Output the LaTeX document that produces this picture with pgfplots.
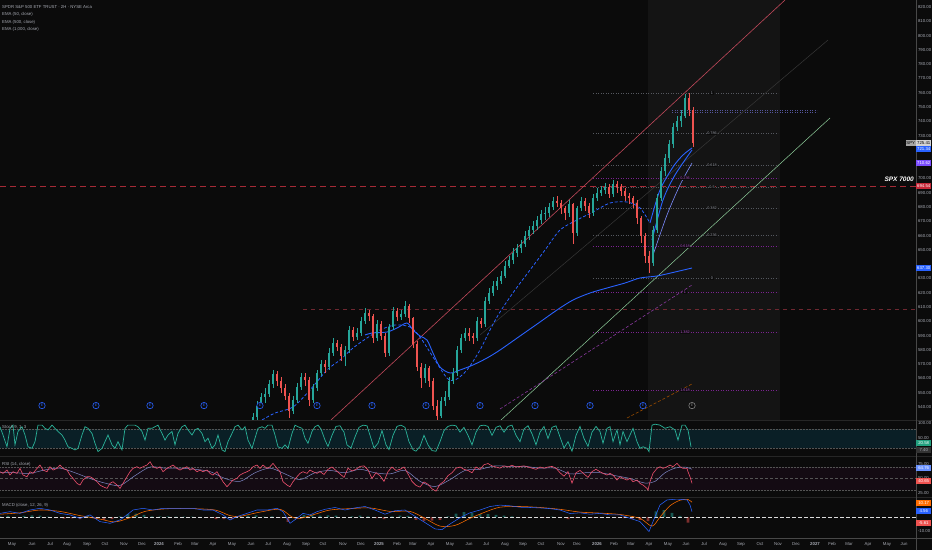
\documentclass[border=0pt]{standalone}
\usepackage{pgfplots}
\pgfplotsset{compat=1.18}
\usepackage{pgfplotstable}
\usepackage{fontspec}
\setmainfont{Liberation Sans}
\definecolor{bg}{HTML}{0B0B0B}
\definecolor{hl}{HTML}{141414}
\definecolor{up}{HTML}{26A69A}
\definecolor{dn}{HTML}{EF5350}
\definecolor{ema}{HTML}{2962FF}
\definecolor{emal}{HTML}{7C8CFF}
\definecolor{txt}{HTML}{A8ABB4}
\definecolor{sep}{HTML}{262626}
\definecolor{chred}{HTML}{C0485A}
\definecolor{chgreen}{HTML}{8FCE9B}
\definecolor{fibgray}{HTML}{55585F}
\definecolor{fibtxt}{HTML}{9A9DA6}
\definecolor{fibmag}{HTML}{7A2290}
\definecolor{fibmagt}{HTML}{B050C8}
\definecolor{spx}{HTML}{A52A36}
\definecolor{ath}{HTML}{6E2730}
\definecolor{lav}{HTML}{55559A}
\definecolor{stoch}{HTML}{2BB39A}
\definecolor{stband}{HTML}{0A1F26}
\definecolor{rsi}{HTML}{F0506E}
\definecolor{rsima}{HTML}{7F88C8}
\definecolor{rsiband}{HTML}{140B13}
\definecolor{macdo}{HTML}{FF6D00}
\definecolor{purp}{HTML}{7B4DFF}
\definecolor{redbox}{HTML}{C62838}
\definecolor{grbox}{HTML}{22A07F}
\newcommand\tfs{\fontsize{4.3}{5}\selectfont}
\newcommand\ffs{\fontsize{3.8}{4}\selectfont}

\pgfplotstableread{
x o h l c
253 530 536 527 533
257 533 544 531 541
261 541 550 539 547
265 547 553 543 549
269 549 559 547 556
273 556 566 553 563
293 537 548 535 545
297 545 557 543 554
301 554 564 552 561
313 545 556 543 553
317 553 566 551 564
321 564 573 562 570
329 568 581 566 578
333 578 588 576 585
345 576 583 569 580
349 580 597 578 594
357 589 595 587 592
361 592 603 590 600
365 600 609 598 606
377 588 601 586 598
389 578 598 576 596
393 596 610 594 607
401 603 608 601 605
405 605 614 603 611
425 560 570 557 567
441 534 547 532 544
445 544 551 541 547
449 547 561 545 558
453 558 567 556 564
457 564 583 562 580
461 580 591 578 588
465 588 595 586 592
477 588 603 586 600
485 598 617 596 614
489 614 623 612 620
493 620 628 618 625
497 625 631 622 628
501 628 635 626 632
505 632 642 630 639
509 639 646 637 643
513 643 651 640 648
517 648 654 645 651
521 651 657 648 654
525 654 663 652 660
529 660 667 657 664
533 664 670 661 667
537 667 674 664 671
541 671 678 668 675
545 675 680 671 676
549 676 683 673 680
553 680 687 678 684
569 676 685 673 682
577 662 681 660 679
581 679 687 677 684
593 676 689 674 686
597 686 693 684 690
601 690 695 688 692
605 692 697 689 694
613 689 699 687 696
653 641 667 639 664
657 664 689 662 686
661 686 708 684 705
665 705 717 702 714
669 714 727 711 724
673 724 739 721 736
677 736 744 733 740
681 740 748 736 744
685 744 759 742 756
}\upT

\pgfplotstableread{
x o h l c
277 563 565 555 558
281 558 561 550 553
285 553 556 545 548
289 548 550 532 537
305 561 564 555 559
309 559 561 541 545
325 570 573 564 568
337 585 587 579 582
341 582 584 572 576
353 594 596 586 589
369 606 608 600 604
373 604 605 585 588
381 598 600 587 590
385 590 592 575 578
397 607 609 600 603
409 611 612 599 602
413 602 603 581 584
417 584 586 565 568
421 568 571 553 560
429 567 569 554 558
433 558 560 538 541
437 541 545 527 534
469 592 595 586 590
473 590 592 584 588
481 600 602 595 598
557 684 688 680 683
561 683 685 675 679
565 679 681 671 676
573 682 683 654 662
585 684 686 677 681
589 681 683 672 676
609 694 696 686 689
617 696 698 690 694
621 694 696 688 691
625 691 693 684 688
629 688 690 682 686
633 686 688 679 683
637 683 685 668 672
641 672 674 655 660
645 660 662 641 646
649 646 649 634 641
689 756 760 744 748
693 748 750 722 725
}\dnT

\pgfplotstableread{
x v
0 87
3 61
7 24
10 82
13 92
15 30
18 72
22 87
25 61
28 24
32 19
35 40
38 92
42 92
45 82
48 77
52 92
55 82
58 72
62 61
65 45
68 24
72 19
75 14
78 19
82 61
85 87
88 82
92 66
95 35
98 9
102 19
105 40
108 61
112 30
115 19
118 40
122 14
125 82
128 92
132 92
135 92
138 87
142 72
145 45
148 82
152 82
155 87
158 92
162 66
165 45
168 61
172 72
175 30
178 66
182 87
185 92
188 77
192 61
195 77
198 82
202 66
205 40
208 51
212 19
215 30
218 61
222 14
225 9
228 40
232 66
235 87
238 92
242 77
245 87
248 45
252 19
255 51
258 82
262 87
265 82
268 92
272 92
275 61
278 24
282 19
285 30
288 19
292 66
295 92
298 87
302 82
305 51
308 35
312 72
315 87
318 92
321 80
325 45
328 25
332 60
336 88
340 90
344 70
347 30
351 20
355 55
359 85
363 92
367 90
371 50
374 20
378 35
382 75
386 30
389 15
393 60
397 88
401 92
405 85
409 40
413 15
416 10
420 25
424 60
428 30
432 12
436 10
440 40
444 75
448 88
452 92
456 90
460 70
464 85
468 60
472 30
476 70
480 90
484 92
488 88
492 60
496 85
500 90
504 70
508 88
512 92
516 60
520 40
524 80
528 90
532 65
536 30
540 70
544 88
548 50
552 85
556 90
560 55
564 20
568 40
572 10
576 60
580 88
584 50
588 25
592 70
596 88
600 72
603 35
607 82
610 87
613 40
617 77
620 30
623 72
627 40
630 61
633 82
637 40
640 19
643 24
647 19
649 9
652 92
655 95
660 92
665 82
670 87
675 77
678 45
682 92
685 92
688 77
691 24
}\stochT

\pgfplotstableread{
x v
0 61.8
3 58.9
7 64.7
10 56
13 61.8
17 58.9
20 67.6
23 56
27 53.1
30 61.8
33 58.9
37 67.6
40 73.4
43 64.7
47 61.8
50 70.5
53 64.7
57 67.6
60 73.4
63 67.6
67 64.7
70 56
73 50.2
77 41.5
80 38.6
83 47.3
87 53.1
90 53.1
93 50.2
97 44.4
100 38.6
103 35.7
107 32.8
110 41.5
113 44.4
117 38.6
120 32.8
123 41.5
127 53.1
130 61.8
133 67.6
137 70.5
140 67.6
143 70.5
147 73.4
150 79.2
153 70.5
157 67.6
160 70.5
163 61.8
167 67.6
170 70.5
173 73.4
177 67.6
180 64.7
183 67.6
187 70.5
190 64.7
193 67.6
197 61.8
200 64.7
203 61.8
207 64.7
210 58.9
213 56
217 61.8
220 53.1
223 44.4
227 35.7
230 41.5
233 47.3
237 50.2
240 56
243 58.9
247 61.8
250 64.7
253 70.5
257 73.4
260 67.6
263 73.4
267 67.6
270 70.5
273 76.3
277 67.6
280 61.8
283 44.4
287 38.6
290 35.7
293 44.4
297 53.1
300 58.9
303 61.8
307 58.9
310 64.7
313 61.8
317 58.9
320 62
324 57
328 66
332 70
336 64
340 58
344 52
348 68
352 63
356 66
360 71
364 72
368 65
372 50
376 60
380 55
384 45
388 62
392 70
396 64
400 66
404 70
408 58
412 45
416 38
420 35
424 44
428 40
432 32
436 28
440 40
444 45
448 55
452 60
456 68
460 70
464 66
468 64
472 60
476 70
480 66
484 74
488 76
492 72
496 70
500 68
504 72
508 70
512 73
516 70
520 71
524 72
528 70
532 68
536 66
540 70
544 68
548 70
552 71
556 68
560 60
564 54
568 62
572 42
576 60
580 64
584 58
588 52
592 62
596 66
600 61.8
603 58.9
607 56
610 58.9
613 56
617 47.3
620 53.1
623 50.2
627 47.3
630 50.2
633 44.4
637 47.3
640 41.5
643 38.6
647 32.8
648 29.9
650 44.4
653 58.9
657 67.6
660 70.5
663 67.6
667 70.5
670 73.4
673 70.5
677 76.3
680 70.5
683 67.6
687 67.6
688 61.8
690 53.1
692 41.5
}\rsiT

\pgfplotstableread{
x v
0 60
15 60
30 59
45 65
60 68
75 60
90 50
105 42
120 38
135 55
150 70
165 68
180 68
195 66
210 62
225 50
240 45
255 60
270 68
285 58
300 48
315 60
330 64
345 60
360 66
375 60
390 58
405 64
420 45
435 36
450 48
465 64
480 66
495 72
510 71
525 71
540 68
555 68
570 58
585 60
600 60
615 55
630 50
645 42
655 45
665 60
675 68
685 70
692 66
}\rsimaT

\pgfplotstableread{
x v
0 2.6
10 3.8
20 2.6
30 5.0
40 6.2
50 5.0
60 2.6
70 1.5
80 -0.9
90 1.5
100 -3.3
110 -4.5
120 -2.1
127 1.5
133 5.0
143 6.2
153 5.0
163 6.2
173 6.2
183 6.2
193 6.2
203 5.0
213 5.0
223 1.5
230 -2.1
237 0.3
247 2.6
257 5.0
267 5.0
277 6.2
283 3.8
290 -4.5
297 -0.9
303 2.6
310 1.5
317 3.8
325 5.5
335 6.8
345 5.0
355 6.5
365 7.5
375 5.0
385 2.0
395 4.5
405 5.0
415 0.5
425 -4.0
435 -8.5
442 -9.0
450 -5.0
460 -0.5
470 3.0
480 5.0
490 7.5
500 8.5
510 8.0
520 7.0
530 6.8
540 6.5
550 6.0
560 5.0
570 2.5
580 3.0
590 2.0
600 2.6
610 1.5
620 1.5
630 -0.9
640 -3.3
649 -10.4
653 -3.3
660 8.6
667 12.2
677 12.8
687 12.2
690 8.6
692 3.8
}\macdT

\pgfplotstableread{
x v
0 2.0
20 3.0
40 5.0
60 4.0
80 1.0
100 -1.5
115 -3.5
130 -0.5
145 4.0
165 5.8
190 6.0
215 5.0
230 1.0
240 0.5
260 3.5
280 5.5
292 0.0
300 -1.0
315 2.0
330 5.0
350 6.0
370 6.5
390 4.0
410 4.0
425 -1.0
440 -6.5
455 -6.0
470 -1.0
485 3.5
500 7.0
520 7.5
540 6.8
560 5.5
580 3.5
600 2.8
620 1.8
640 -1.0
652 -6.5
660 0.0
670 8.0
680 12.0
688 12.5
692 10.5
}\sigT

\pgfplotstableread{
x v
0 0.5
8 0.8
16 -0.3
24 0.8
32 1.2
40 1.0
48 0.2
56 -0.8
64 -1.2
72 -0.9
80 -1.5
88 0.8
96 -1.0
104 -2.0
112 -1.5
120 0.5
128 2.0
136 2.5
144 1.5
152 0.5
160 0.5
168 0.4
176 0.3
184 0.2
192 0.2
200 0.1
208 -0.3
216 -1.5
224 -1.5
232 -1.5
240 0.5
248 1.0
256 1.2
264 0.3
272 0.5
280 -0.5
288 -3.5
296 -0.5
304 1.5
312 1.5
320 1.0
328 1.2
336 1.0
344 -0.5
352 0.5
360 1.0
368 0.5
376 -0.8
384 -1.5
392 0.5
400 1.0
408 0.8
416 -2.0
424 -3.0
432 -2.5
440 -2.0
448 0.5
456 2.5
464 3.5
472 3.0
480 2.0
488 2.0
496 1.5
504 1.0
512 0.5
520 -0.3
528 -0.3
536 -0.3
544 -0.3
552 0.3
560 -0.5
568 -1.5
576 -0.5
584 -0.3
592 -0.5
600 -0.2
608 -0.3
616 -0.2
624 -0.8
632 -1.5
640 -2.0
648 -3.0
656 4.0
664 5.0
672 3.0
680 0.8
688 -4.0
}\histT

\pgfplotsset{
  tv/.style={scale only axis, xmin=0, xmax=916, anchor=south west, width=916pt,
    axis line style={draw=none}, major tick style={draw=none}, minor tick num=0,
    xtick=\empty, yticklabel pos=right, scaled y ticks=false,
    ticklabel style={font=\tfs, text=txt},
    y tick label style={anchor=west, xshift=-1.5pt,
      /pgf/number format/fixed, /pgf/number format/fixed zerofill,
      /pgf/number format/precision=2, /pgf/number format/assume math mode=true}},
  candle/.style={draw=none, mark=none, error bars/.cd, y dir=both, y explicit,
    error mark=none, error bar style={draw=#1, line width=0.55pt}},
  body/.style={draw=none, mark=none, error bars/.cd, y dir=both, y explicit,
    error mark=none, error bar style={draw=#1, line width=2.1pt}}
}
\tikzset{box/.style={anchor=west, inner sep=0.8pt, minimum width=15pt, minimum height=6pt, font=\tfs, text=white}}

\begin{document}
\begin{tikzpicture}[x=1pt,y=1pt]
\useasboundingbox (0,0) rectangle (932,550);
\fill[bg] (0,0) rectangle (932,550);

% ---------- main price pane ----------
\begin{axis}[tv, at={(0pt,130pt)}, height=420pt, ymin=530.9, ymax=824.9,
  ytick={540,550,560,570,580,590,600,610,620,630,650,660,670,680,690,700,730,740,750,760,770,780,790,800,810,820}]
\fill[hl] (axis cs:648,530.9) rectangle (axis cs:780,824.9);
% horizontal levels
\addplot[spx, line width=0.6pt, dash pattern=on 6pt off 4pt] coordinates {(0,694.54) (916,694.54)};
\addplot[ath, line width=0.6pt, dash pattern=on 4pt off 4pt] coordinates {(303,608.6) (916,608.6)};
% fib (gray)
\addplot[fibgray, dotted, line width=0.5pt] coordinates {(593,759.8) (778,759.8)};
\addplot[fibgray, dotted, line width=0.5pt] coordinates {(593,731.8) (778,731.8)};
\addplot[fibgray, dotted, line width=0.5pt] coordinates {(593,709.4) (778,709.4)};
\addplot[fibgray, dotted, line width=0.5pt] coordinates {(593,694.0) (778,694.0)};
\addplot[fibgray, dotted, line width=0.5pt] coordinates {(593,679.3) (778,679.3)};
\addplot[fibgray, dotted, line width=0.5pt] coordinates {(593,660.4) (778,660.4)};
\addplot[fibgray, dotted, line width=0.5pt] coordinates {(593,630.3) (778,630.3)};
% fib (magenta)
\addplot[fibmag, dotted, line width=0.5pt] coordinates {(593,700.3) (778,700.3)};
\addplot[fibmag, dotted, line width=0.5pt] coordinates {(593,652.7) (778,652.7)};
\addplot[fibmag, dotted, line width=0.5pt] coordinates {(593,620.5) (778,620.5)};
\addplot[fibmag, dotted, line width=0.5pt] coordinates {(593,592.5) (778,592.5)};
\addplot[fibmag, dotted, line width=0.5pt] coordinates {(593,551.9) (778,551.9)};
% lavender rays
\addplot[lav, dotted, line width=0.5pt] coordinates {(672,747.9) (817,747.9)};
\addplot[lav, dotted, line width=0.5pt] coordinates {(672,746.3) (817,746.3)};
% channel and trend lines
\addplot[color=white!18!bg, line width=0.5pt] coordinates {(480,590.4) (828,796.9)};
\addplot[chred, line width=0.6pt] coordinates {(331,530.9) (785,824.9)};
\addplot[chgreen, line width=0.5pt] coordinates {(501,530.9) (830,742.3)};
\addplot[color=fibmag!90!white, line width=0.6pt, dash pattern=on 3pt off 2pt] coordinates {(500,538.6) (692,625.4)};
\addplot[color=orange!60!black, line width=0.6pt, dash pattern=on 3pt off 2pt] coordinates {(627,532.3) (692,556.1)};
% EMAs
\addplot[ema, line width=0.8pt, dash pattern=on 3pt off 2pt, smooth] coordinates {
(262,530.9)(275,535.8)(293,540.0)(310,551.9)(327,565.9)(340,572.9)(353,581.3)(367,588.3)(380,593.9)
(395,597.4)(410,596.0)(420,589.0)(433,575.0)(447,560.3)(455,558.9)(467,565.9)(480,579.9)(490,593.9)
(500,606.5)(515,621.9)(530,635.9)(545,649.9)(560,663.9)(577,670.9)(593,676.5)(610,682.8)(627,683.5)
(640,679.3)(650,668.8)};
\addplot[ema, line width=0.9pt, smooth] coordinates {
(365,590.4)(372,591.8)(387,592.5)(397,595.3)(407,598.8)(413,593.9)(420,589.7)(427,586.9)(433,577.8)
(440,568.0)(450,563.8)(460,565.9)(473,569.4)(487,574.3)(500,579.9)(520,589.7)(540,599.5)(557,607.9)
(573,614.9)(590,619.8)(607,623.3)(625,626.8)(640,630.3)(657,631.7)(675,634.5)(692,637.3)};
\addplot[emal, line width=0.6pt, smooth] coordinates {(653,646.4)(667,674.4)(680,695.4)(692,710.8)};
\addplot[ema, line width=0.9pt, smooth] coordinates {(652,656.9)(663,684.9)(675,702.4)(692,719.9)};
\addplot[ema, line width=0.9pt, smooth] coordinates {(650,668.8)(660,691.9)(673,708.0)(683,716.4)(692,721.3)};
% candles
\addplot[candle=up] table[x=x, y expr={0.5*(\thisrow{h}+\thisrow{l})}, y error plus expr={0.5*(\thisrow{h}-\thisrow{l})}, y error minus expr={0.5*(\thisrow{h}-\thisrow{l})}] {\upT};
\addplot[body=up] table[x=x, y expr={0.5*(\thisrow{o}+\thisrow{c})}, y error plus expr={0.5*(\thisrow{c}-\thisrow{o})}, y error minus expr={0.5*(\thisrow{c}-\thisrow{o})}] {\upT};
\addplot[candle=dn] table[x=x, y expr={0.5*(\thisrow{h}+\thisrow{l})}, y error plus expr={0.5*(\thisrow{h}-\thisrow{l})}, y error minus expr={0.5*(\thisrow{h}-\thisrow{l})}] {\dnT};
\addplot[body=dn] table[x=x, y expr={0.5*(\thisrow{o}+\thisrow{c})}, y error plus expr={0.5*(\thisrow{o}-\thisrow{c})}, y error minus expr={0.5*(\thisrow{o}-\thisrow{c})}] {\dnT};
% event markers
\addplot[only marks, mark=*, mark size=3.2pt, mark options={draw=ema, fill=bg, line width=0.6pt},
  nodes near coords={E}, nodes near coords style={anchor=center, font=\fontsize{3.5}{4}\selectfont, text=ema, inner sep=0pt}]
  coordinates {(42,541)(96,541)(150,541)(204,541)(260,541)(317,541)(372,541)(426,541)(480,541)(535,541)(590,541)(643,541)};
\addplot[only marks, mark=*, mark size=3.2pt, mark options={draw=gray, fill=bg, line width=0.6pt},
  nodes near coords={E}, nodes near coords style={anchor=center, font=\fontsize{3.5}{4}\selectfont, text=gray, inner sep=0pt}]
  coordinates {(692,541)};
% fib labels
\node[font=\ffs, text=fibtxt, fill=bg, inner sep=0.6pt] at (axis cs:712,759.8) {1};
\node[font=\ffs, text=fibtxt, fill=bg, inner sep=0.6pt] at (axis cs:712,731.8) {0.786};
\node[font=\ffs, text=fibtxt, fill=bg, inner sep=0.6pt] at (axis cs:712,709.4) {0.618};
\node[font=\ffs, text=fibtxt, fill=bg, inner sep=0.6pt] at (axis cs:712,694.0) {0.5};
\node[font=\ffs, text=fibtxt, fill=bg, inner sep=0.6pt] at (axis cs:712,679.3) {0.382};
\node[font=\ffs, text=fibtxt, fill=bg, inner sep=0.6pt] at (axis cs:712,660.4) {0.236};
\node[font=\ffs, text=fibtxt, fill=bg, inner sep=0.6pt] at (axis cs:712,630.3) {0};
\node[font=\ffs, text=fibmagt, fill=bg, inner sep=0.6pt] at (axis cs:685,700.3) {0.236};
\node[font=\ffs, text=fibmagt, fill=bg, inner sep=0.6pt] at (axis cs:685,652.7) {0.618};
\node[font=\ffs, text=fibmagt, fill=bg, inner sep=0.6pt] at (axis cs:685,620.5) {1};
\node[font=\ffs, text=fibmagt, fill=bg, inner sep=0.6pt] at (axis cs:685,592.5) {1.382};
\node[font=\ffs, text=fibmagt, fill=bg, inner sep=0.6pt] at (axis cs:685,551.9) {1.618};
\end{axis}

% ---------- Stoch pane ----------
\begin{axis}[tv, at={(0pt,94pt)}, height=35pt, ymin=-5, ymax=105, ytick={50,100}]
\fill[stband] (axis cs:0,20) rectangle (axis cs:916,80);
\addplot[color=white!30!bg, densely dotted, line width=0.5pt] coordinates {(0,80)(916,80)};
\addplot[color=white!30!bg, densely dotted, line width=0.5pt] coordinates {(0,20)(916,20)};
\addplot[stoch, line width=0.7pt] table[x=x, y=v] {\stochT};
\end{axis}

% ---------- RSI pane ----------
\begin{axis}[tv, at={(0pt,53pt)}, height=40pt, ymin=17.8, ymax=87.4, ytick={25,50,75}]
\fill[rsiband] (axis cs:0,30) rectangle (axis cs:916,70);
\addplot[color=white!30!bg, densely dotted, line width=0.5pt] coordinates {(0,70)(916,70)};
\addplot[color=white!30!bg, dash pattern=on 3pt off 2pt, line width=0.5pt] coordinates {(0,50)(916,50)};
\addplot[color=white!30!bg, densely dotted, line width=0.5pt] coordinates {(0,30)(916,30)};
\addplot[rsima, line width=0.5pt, smooth] table[x=x, y=v] {\rsimaT};
\addplot[rsi, line width=0.6pt] table[x=x, y=v] {\rsiT};
\end{axis}

% ---------- MACD pane ----------
\begin{axis}[tv, at={(0pt,12pt)}, height=39pt, ymin=-15, ymax=12.86, ytick={-10},
  xtick={12,32,50,67,87,105,124,142,159,178,195,213,232,251,268,287,306,323,343,361,379,397,413,431,450,469,486,505,523,541,561,577,597,614,631,649,668,686,704,723,741,760,778,796,815,832,849,868,887,904},
  xticklabels={May,Jun,Jul,Aug,Sep,Oct,Nov,Dec,\textbf{2024},Feb,Mar,Apr,May,Jun,Jul,Aug,Sep,Oct,Nov,Dec,\textbf{2025},Feb,Mar,Apr,May,Jun,Jul,Aug,Sep,Oct,Nov,Dec,\textbf{2026},Feb,Mar,Apr,May,Jun,Jul,Aug,Sep,Oct,Nov,Dec,\textbf{2027},Feb,Mar,Apr,May,Jun},
  x tick label style={anchor=north, text height=3.3pt, text depth=1pt, inner sep=0pt, yshift=-3.5pt}]
\addplot[ybar, bar width=2.6pt, draw=none, fill=up, opacity=0.5, restrict y to domain=0:50] table[x=x, y=v] {\histT};
\addplot[ybar, bar width=2.6pt, draw=none, fill=dn, opacity=0.5, restrict y to domain=-50:0] table[x=x, y=v] {\histT};
\addplot[color=white!85!bg, line width=1.0pt, dash pattern=on 3.5pt off 2.5pt] coordinates {(0,0)(916,0)};
\addplot[macdo, line width=0.55pt, smooth] table[x=x, y=v] {\sigT};
\addplot[ema, line width=0.55pt] table[x=x, y=v] {\macdT};
\end{axis}

% ---------- separators ----------
\draw[sep, line width=0.8pt] (0,130) -- (932,130);
\draw[sep, line width=0.8pt] (0,94) -- (932,94);
\draw[sep, line width=0.8pt] (0,52.5) -- (932,52.5);
\draw[white!25!bg, line width=0.8pt] (0,12) -- (932,12);
\draw[white!25!bg, line width=0.6pt] (916,0) -- (916,550);

% ---------- titles ----------
\node[anchor=west, font=\tfs, text=txt, inner sep=0pt] at (2,543) {SPDR S\&P 500 ETF TRUST · 2H · NYSE Arca};
\node[anchor=west, font=\tfs, text=txt, inner sep=0pt] at (2,535.5) {EMA (50, close)};
\node[anchor=west, font=\tfs, text=txt, inner sep=0pt] at (2,528) {EMA (500, close)};
\node[anchor=west, font=\tfs, text=txt, inner sep=0pt] at (2,520.5) {EMA (1,000, close)};
\node[anchor=west, font=\tfs, text=txt, inner sep=0pt] at (2,123) {Stoch 9, 1, 3};
\node[anchor=west, font=\tfs, text=txt, inner sep=0pt] at (2,86) {RSI (14, close)};
\node[anchor=west, font=\tfs, text=txt, inner sep=0pt] at (2,45) {MACD (close, 12, 26, 9)};
\node[anchor=east, font=\fontsize{6.5}{7}\selectfont\bfseries\itshape, text=white, inner sep=0pt] at (914,371) {SPX 7000};

% ---------- price boxes ----------
\node[box, anchor=east, fill=gray!70, text=black, minimum width=8pt] at (916,407) {SPY};
\node[box, fill=gray!35, text=black] at (916,407) {725.41};
\node[box, fill=ema] at (916,401) {721.34};
\node[box, fill=purp] at (916,387) {710.62};
\node[box, fill=redbox] at (916,364) {694.54};
\node[box, fill=ema] at (916,282) {637.30};
\node[box, fill=grbox] at (916,107) {20.58};
\node[box, fill=black!80, text=txt] at (916,100) {7.40};
\node[box, fill=ema!70!white] at (916,82) {64.76};
\node[box, fill=dn] at (916,69) {40.65};
\node[box, fill=macdo] at (916,47) {10.17};
\node[box, fill=ema] at (916,39) {4.56};
\node[box, fill=dn] at (916,27) {-5.61};
\end{tikzpicture}
\end{document}
